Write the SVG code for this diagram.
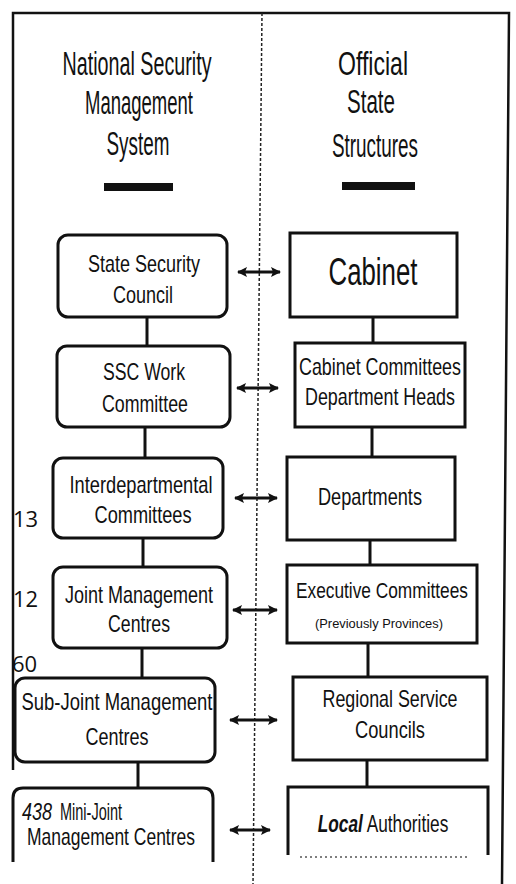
<svg xmlns="http://www.w3.org/2000/svg" width="516" height="884" viewBox="0 0 516 884">
<defs>
<marker id="ah" viewBox="0 0 10 10" refX="9" refY="5" markerWidth="10" markerHeight="10" markerUnits="userSpaceOnUse" orient="auto-start-reverse">
<path d="M0,0 L10,5 L0,10 L2,5 Z" fill="#111"/>
</marker>
</defs>
<style>
.frame{stroke:#111;stroke-width:2.5;fill:none}
.div{stroke:#222;stroke-width:1.5;stroke-dasharray:3 2;fill:none}
.hd{font-family:"Liberation Sans",Arial,sans-serif;font-size:33px;fill:#111;text-anchor:middle}
.bx{fill:#fff;stroke:#111;stroke-width:3}
.t{font-family:"Liberation Sans",Arial,sans-serif;font-size:24px;fill:#111;text-anchor:middle}
.sm{font-family:"Liberation Sans",Arial,sans-serif;font-size:13px;fill:#111;text-anchor:middle}
.num{font-family:"Open Sans","DejaVu Sans",sans-serif;font-size:22px;fill:#111}
.con line{stroke:#111;stroke-width:3}
.arr{stroke:#111;stroke-width:2;marker-start:url(#ah);marker-end:url(#ah)}
.bar{fill:#111}
</style>
<rect width="516" height="884" fill="#fff"/>
<!-- frame -->
<path class="frame" d="M13,770 L13,13 L509,13 L502,884"/>
<line class="div" x1="262" y1="13" x2="253" y2="884"/>
<!-- headers -->
<g id="hdr-left">
<text class="hd" x="137" y="75" textLength="149" lengthAdjust="spacingAndGlyphs">National Security</text>
<text class="hd" x="139" y="114" textLength="108" lengthAdjust="spacingAndGlyphs">Management</text>
<text class="hd" x="138" y="155" textLength="63" lengthAdjust="spacingAndGlyphs">System</text>
<rect class="bar" x="104" y="183" width="69" height="8"/>
</g>
<g id="hdr-right">
<text class="hd" x="373" y="75" textLength="70" lengthAdjust="spacingAndGlyphs">Official</text>
<text class="hd" x="371" y="113" textLength="48" lengthAdjust="spacingAndGlyphs">State</text>
<text class="hd" x="375" y="157" textLength="86" lengthAdjust="spacingAndGlyphs">Structures</text>
<rect class="bar" x="342" y="182" width="73" height="8"/>
</g>
<!-- connectors -->
<g id="connectors" class="con">
<line x1="147" y1="317" x2="147" y2="346"/>
<line x1="373" y1="317" x2="373" y2="343"/>
<line x1="145" y1="427" x2="145" y2="458"/>
<line x1="372" y1="427" x2="372" y2="457"/>
<line x1="143" y1="538" x2="143" y2="567"/>
<line x1="370" y1="540" x2="370" y2="565"/>
<line x1="142" y1="648" x2="142" y2="678"/>
<line x1="368" y1="643" x2="368" y2="677"/>
<line x1="138" y1="762" x2="138" y2="788"/>
<line x1="367" y1="760" x2="367" y2="787"/>
<line class="arr" x1="238" y1="272" x2="280" y2="272"/>
<line class="arr" x1="237" y1="388" x2="278" y2="388"/>
<line class="arr" x1="235" y1="498" x2="277" y2="498"/>
<line class="arr" x1="233" y1="610" x2="277" y2="610"/>
<line class="arr" x1="230" y1="720" x2="277" y2="720"/>
<line class="arr" x1="230" y1="830" x2="270" y2="830"/>
</g>
<!-- left column -->
<g id="ssc">
<rect class="bx" x="58" y="235" width="169" height="82" rx="10"/>
<text class="t" x="144" y="272" textLength="112" lengthAdjust="spacingAndGlyphs">State Security</text>
<text class="t" x="143" y="303" textLength="60" lengthAdjust="spacingAndGlyphs">Council</text>
</g>
<g id="ssc-work">
<rect class="bx" x="57" y="346" width="173" height="81" rx="10"/>
<text class="t" x="144" y="380" textLength="82" lengthAdjust="spacingAndGlyphs">SSC Work</text>
<text class="t" x="145" y="412" textLength="86" lengthAdjust="spacingAndGlyphs">Committee</text>
</g>
<g id="interdep">
<rect class="bx" x="53" y="458" width="170" height="80" rx="10"/>
<text class="t" x="141" y="493" textLength="143" lengthAdjust="spacingAndGlyphs">Interdepartmental</text>
<text class="t" x="143" y="523" textLength="97" lengthAdjust="spacingAndGlyphs">Committees</text>
<text class="num" x="13" y="527">13</text>
</g>
<g id="jmc">
<rect class="bx" x="53" y="567" width="174" height="81" rx="10"/>
<text class="t" x="139" y="603" textLength="148" lengthAdjust="spacingAndGlyphs">Joint Management</text>
<text class="t" x="139" y="632" textLength="62" lengthAdjust="spacingAndGlyphs">Centres</text>
<text class="num" x="13" y="607">12</text>
</g>
<g id="sub-jmc">
<rect class="bx" x="15" y="678" width="200" height="84" rx="10"/>
<text class="t" x="117" y="710" textLength="191" lengthAdjust="spacingAndGlyphs">Sub-Joint Management</text>
<text class="t" x="117" y="745" textLength="63" lengthAdjust="spacingAndGlyphs">Centres</text>
<text class="num" x="12" y="672">60</text>
</g>
<g id="mini-jmc">
<path class="bx" d="M13,862 L13,798 Q13,788 23,788 L203,788 Q213,788 213,798 L213,862"/>
<text class="t" x="22" y="820" style="text-anchor:start;font-style:italic" textLength="30" lengthAdjust="spacingAndGlyphs">438</text>
<text class="t" x="60" y="820" style="text-anchor:start" textLength="62" lengthAdjust="spacingAndGlyphs">Mini-Joint</text>
<text class="t" x="111" y="845" textLength="168" lengthAdjust="spacingAndGlyphs">Management Centres</text>
</g>
<!-- right column -->
<g id="cabinet">
<rect class="bx" x="290" y="233" width="167" height="84"/>
<text class="t" x="373" y="285" style="font-size:38px" textLength="89" lengthAdjust="spacingAndGlyphs">Cabinet</text>
</g>
<g id="cab-comm">
<rect class="bx" x="295" y="343" width="170" height="84"/>
<text class="t" x="380" y="375" textLength="162" lengthAdjust="spacingAndGlyphs">Cabinet Committees</text>
<text class="t" x="380" y="405" textLength="150" lengthAdjust="spacingAndGlyphs">Department Heads</text>
</g>
<g id="departments">
<rect class="bx" x="287" y="457" width="168" height="83"/>
<text class="t" x="370" y="505" textLength="104" lengthAdjust="spacingAndGlyphs">Departments</text>
</g>
<g id="exec-comm">
<rect class="bx" x="287" y="565" width="190" height="78"/>
<text class="t" x="382" y="598" style="font-size:22px" textLength="172" lengthAdjust="spacingAndGlyphs">Executive Committees</text>
<text class="sm" x="379" y="628" textLength="128" lengthAdjust="spacingAndGlyphs">(Previously Provinces)</text>
</g>
<g id="rsc">
<rect class="bx" x="293" y="677" width="194" height="83"/>
<text class="t" x="390" y="707" textLength="135" lengthAdjust="spacingAndGlyphs">Regional Service</text>
<text class="t" x="390" y="738" textLength="70" lengthAdjust="spacingAndGlyphs">Councils</text>
</g>
<g id="local">
<path class="bx" d="M288,855 L288,787 L488,787 L488,855"/>
<line x1="300" y1="857" x2="470" y2="857" stroke="#555" stroke-width="1.5" stroke-dasharray="2 3"/>
<text class="t" transform="translate(383,832) scale(0.72,1)" x="0" y="0"><tspan style="font-style:italic;font-weight:bold">Local</tspan> Authorities</text>
</g>
</svg>
